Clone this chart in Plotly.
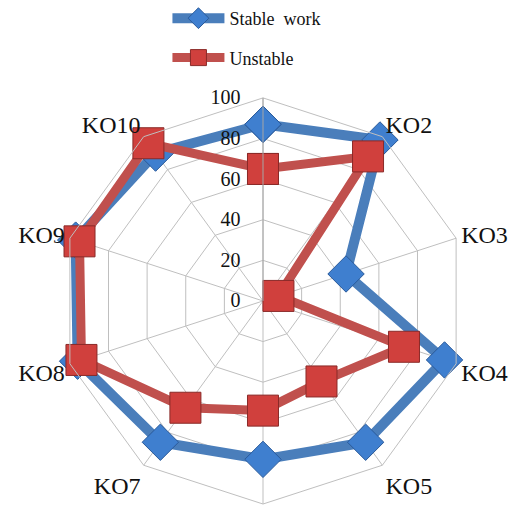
import plotly.graph_objects as go

# Ten key operations around the radar, scores 0-100
categories = ["KO1", "KO2", "KO3", "KO4", "KO5", "KO6", "KO7", "KO8", "KO9", "KO10"]
# KO1 and KO6 carry no printed label on the chart
shown_labels = ["", "KO2", "KO3", "KO4", "KO5", "", "KO7", "KO8", "KO9", "KO10"]

stable_work = [87, 98, 43, 94, 86, 78, 86, 96, 97, 90]
unstable = [65, 88, 8, 73, 49, 54, 65, 94, 95, 96]

radial_ticks = [0, 20, 40, 60, 80, 100]

serif = "Liberation Serif, Times New Roman, serif"
pad = "\u00a0\u00a0\u00a0"


def closed(values):
    return list(values) + [values[0]]


fig = go.Figure()

fig.add_trace(go.Scatterpolar(
    r=closed(stable_work),
    theta=closed(categories),
    name="Stable  work",
    legendgroup="a",
    mode="lines+markers",
    line=dict(color="#4a7ebb", width=10),
    marker=dict(symbol="diamond", size=28, color="#3f7fcf",
                line=dict(color="#2a5a9a", width=1)),
))

fig.add_trace(go.Scatterpolar(
    r=closed(unstable),
    theta=closed(categories),
    name="Unstable",
    legendgroup="b",
    mode="lines+markers",
    line=dict(color="#c0504d", width=9),
    marker=dict(symbol="square", size=31, color="#d0403d",
                line=dict(color="#8a2a28", width=1)),
))

fig.update_layout(
    width=520,
    height=506,
    margin=dict(l=0, r=0, t=0, b=0),
    paper_bgcolor="white",
    plot_bgcolor="white",
    font=dict(family=serif, color="#111111"),
    showlegend=True,
    legend=dict(
        x=0.322, y=1.013, xanchor="left", yanchor="top",
        orientation="v",
        font=dict(family=serif, size=18, color="#111111"),
        itemwidth=52,
        tracegroupgap=13,
        bgcolor="rgba(0,0,0,0)",
    ),
    polar=dict(
        domain=dict(x=[58 / 520, 468 / 520], y=[1 - 504 / 506, 1 - 93 / 506]),
        gridshape="linear",
        bgcolor="white",
        radialaxis=dict(
            range=[0, 100],
            tickvals=radial_ticks,
            ticktext=[str(v) + pad for v in radial_ticks],
            angle=90,
            tickangle=90,
            side="counterclockwise",
            showline=True,
            linecolor="#a6a6a6",
            linewidth=1,
            gridcolor="#bfbfbf",
            gridwidth=1,
            ticks="",
            tickfont=dict(family=serif, size=20, color="#111111"),
        ),
        angularaxis=dict(
            type="category",
            categoryarray=categories,
            tickmode="array",
            tickvals=categories,
            ticktext=shown_labels,
            rotation=90,
            direction="clockwise",
            showline=True,
            linecolor="#bfbfbf",
            linewidth=1,
            gridcolor="#bfbfbf",
            gridwidth=1,
            ticks="",
            tickfont=dict(family=serif, size=24, color="#111111"),
        ),
    ),
)

fig.write_html("out.html")
